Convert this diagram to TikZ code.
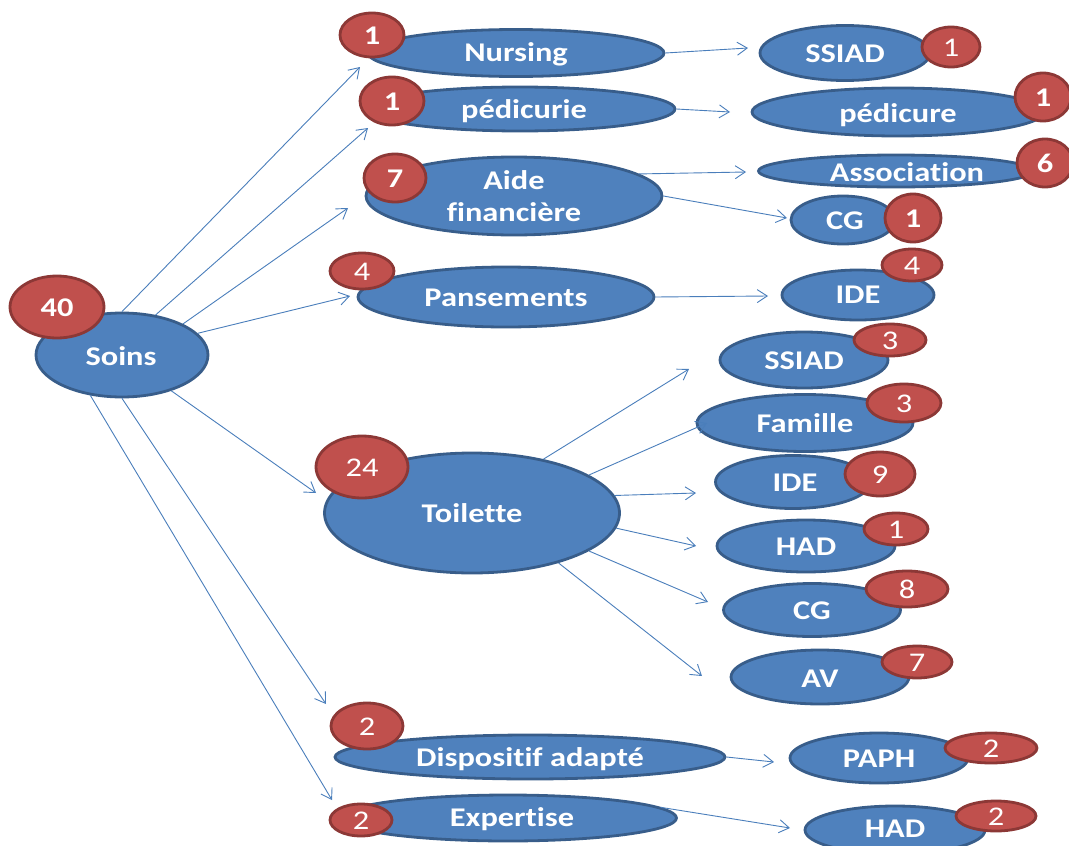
\documentclass[tikz,border=0pt]{standalone}
\usepackage{fontspec}
\setmainfont{Carlito}[FakeStretch=1.2,Ligatures=NoCommon]
\usetikzlibrary{shapes.geometric,arrows.meta}
\definecolor{fillb}{HTML}{4F81BD}
\definecolor{bordb}{HTML}{385D8A}
\definecolor{fillr}{HTML}{C0504D}
\definecolor{bordr}{HTML}{8C3836}
\definecolor{linec}{HTML}{4A7EBB}
\tikzset{
  bub/.style={ellipse, draw=bordb, fill=fillb, line width=2.8pt, inner sep=0pt},
  txt/.style={text=white, font={\fontsize{27}{32}\selectfont\bfseries}, inner sep=0pt, text height=18pt, text depth=0pt},
  badge/.style={ellipse, draw=bordr, fill=fillr, line width=2.8pt, inner sep=0pt, text=white, text height=18pt, text depth=0pt, font={\fontsize{27}{32}\selectfont}},
  bbadge/.style={badge, font={\fontsize{27}{32}\selectfont\bfseries}},
  conn/.style={draw=linec, line width=0.9pt, -{Straight Barb[length=10pt,width=13pt]}}
}
\begin{document}
\begin{tikzpicture}[x=1pt,y=-1pt]
\useasboundingbox (0,0) rectangle (1069,846);
% left and middle bubbles
\node[bub, minimum width=172, minimum height=84] (soins) at (122,355) {};
\node[bub, minimum width=296, minimum height=47] (nurs) at (516,53) {};
\node[bub, minimum width=310, minimum height=44] (pedi) at (520,109) {};
\node[bub, minimum width=296, minimum height=78] (aide) at (514,196) {};
\node[bub, minimum width=296, minimum height=60] (pans) at (506,297) {};
\node[bub, minimum width=295, minimum height=120] (toil) at (472,513) {};
\node[bub, minimum width=390, minimum height=44] (disp) at (530,757) {};
\node[bub, minimum width=337, minimum height=46] (expe) at (508,818) {};
% right bubbles
\node[bub, minimum width=170, minimum height=55] (ssiadA) at (845,53) {};
\node[bub, minimum width=292, minimum height=48] (pedr) at (898,112) {};
\node[bub, minimum width=275, minimum height=32] (asso) at (896,171) {};
\node[bub, minimum width=104, minimum height=48] (cgA) at (843,220) {};
\node[bub, minimum width=152, minimum height=50] (ideA) at (858,295) {};
\node[bub, minimum width=168, minimum height=56] (ssiadB) at (804,360) {};
\node[bub, minimum width=216, minimum height=57] (fam) at (805,423) {};
\node[bub, minimum width=155, minimum height=53] (ideB) at (793,482) {};
\node[bub, minimum width=178, minimum height=52] (hadA) at (806,546) {};
\node[bub, minimum width=177, minimum height=53] (cgB) at (812,610) {};
\node[bub, minimum width=178, minimum height=54] (av) at (820,677) {};
\node[bub, minimum width=178, minimum height=50] (paph) at (879,758) {};
\node[bub, minimum width=180, minimum height=48] (hadB) at (895,830) {};
% texts
\node[txt] (soins-t) at (121,356) {Soins};
\node[txt] (nurs-t) at (516,52) {Nursing};
\node[txt] (pedi-t) at (524,109) {pédicurie};
\node[text=white, font={\fontsize{27}{32}\selectfont\bfseries}, inner sep=0pt, align=center] (aide-t) at (514,196) {Aide\\financière};
\node[txt] (pans-t) at (506,297) {Pansements};
\node[txt] (toil-t) at (472,513) {Toilette};
\node[txt] (disp-t) at (530,757) {Dispositif adapté};
\node[txt] (expe-t) at (512,817) {Expertise};
\node[txt] (ssiadA-t) at (845,53) {SSIAD};
\node[txt] (pedr-t) at (898,113) {pédicure};
\node[txt] (asso-t) at (907,172) {Association};
\node[txt] (cgA-t) at (845,220) {CG};
\node[txt] (ideA-t) at (858,294) {IDE};
\node[txt] (ssiadB-t) at (804,360) {SSIAD};
\node[txt] (fam-t) at (805,423) {Famille};
\node[txt] (ideB-t) at (795,482) {IDE};
\node[txt] (hadA-t) at (806,546) {HAD};
\node[txt] (cgB-t) at (812,610) {CG};
\node[txt] (av-t) at (820,678) {AV};
\node[txt] (paph-t) at (879,758) {PAPH};
\node[txt] (hadB-t) at (895,828) {HAD};
% arrow tips
\coordinate (tNurs) at (360,67);
\coordinate (tPedi) at (368,128);
\coordinate (tAide) at (348,208);
\coordinate (tPans) at (350,296);
\coordinate (tToil) at (316,493);
\coordinate (tDisp) at (326,704);
\coordinate (tExpe) at (332,800);
\coordinate (tSsiadA) at (748,48);
\coordinate (tPedr) at (730,112);
\coordinate (tAsso) at (746,172);
\coordinate (tCgA) at (787,218);
\coordinate (tIdeA) at (768,296);
\coordinate (tSsiadB) at (689,369);
\coordinate (tFam) at (707,423);
\coordinate (tIdeB) at (696,493);
\coordinate (tHadA) at (696,546);
\coordinate (tCgB) at (708,602);
\coordinate (tAv) at (702,676);
\coordinate (tPaph) at (774,762);
\coordinate (tHadB) at (790,828);
% connectors
\draw[conn] (soins.north) -- (tNurs);
\draw[conn] (soins.50) -- (tPedi);
\draw[conn] (soins.27) -- (tAide);
\draw[conn] (soins.16) -- (tPans);
\draw[conn] (soins.-36) -- (tToil);
\draw[conn] (soins.south) -- (tDisp);
\draw[conn] (soins.-128) -- (tExpe);
\draw[conn] (nurs.east) -- (tSsiadA);
\draw[conn] (pedi.east) -- (tPedr);
\draw[conn] (aide.10) -- (tAsso);
\draw[conn] (aide.east) -- (tCgA);
\draw[conn] (pans.east) -- (tIdeA);
\draw[conn] (toil.37) -- (tSsiadB);
\draw[conn] (toil.18) -- (tFam);
\draw[conn] (toil.7) -- (tIdeB);
\draw[conn] (toil.-6) -- (tHadA);
\draw[conn] (toil.-18) -- (tCgB);
\draw[conn] (toil.-30) -- (tAv);
\draw[conn] (disp.east) -- (tPaph);
\draw[conn] (expe.4) -- (tHadB);
% badges
\node[bbadge, minimum width=94, minimum height=62] (b-soins) at (57,307) {40};
\node[bbadge, minimum width=64, minimum height=44] (b-nurs) at (372,35) {1};
\node[bbadge, minimum width=64, minimum height=48] (b-pedi) at (392,101) {1};
\node[bbadge, minimum width=62, minimum height=48] (b-aide) at (395,178) {7};
\node[badge, minimum width=64, minimum height=36] (b-pans) at (362,271) {4};
\node[badge, minimum width=92, minimum height=62] (b-toil) at (362,467) {24};
\node[badge, minimum width=72, minimum height=46] (b-disp) at (367,726) {2};
\node[badge, minimum width=62, minimum height=32] (b-expe) at (361,820) {2};
\node[badge, minimum width=58, minimum height=40] (b-ssiadA) at (951,47) {1};
\node[bbadge, minimum width=56, minimum height=48] (b-pedr) at (1043,97) {1};
\node[bbadge, minimum width=56, minimum height=48] (b-asso) at (1045,163) {6};
\node[bbadge, minimum width=56, minimum height=48] (b-cgA) at (913,218) {1};
\node[badge, minimum width=60, minimum height=32] (b-ideA) at (912,265) {4};
\node[badge, minimum width=72, minimum height=32] (b-ssiadB) at (890,340) {3};
\node[badge, minimum width=74, minimum height=38] (b-fam) at (904,403) {3};
\node[badge, minimum width=70, minimum height=44] (b-ideB) at (880,474) {9};
\node[badge, minimum width=64, minimum height=32] (b-hadA) at (896,529) {1};
\node[badge, minimum width=82, minimum height=36] (b-cgB) at (907,589) {8};
\node[badge, minimum width=70, minimum height=32] (b-av) at (917,662) {7};
\node[badge, minimum width=92, minimum height=30] (b-paph) at (991,748) {2};
\node[badge, minimum width=80, minimum height=30] (b-hadB) at (996,816) {2};
\end{tikzpicture}
\end{document}
